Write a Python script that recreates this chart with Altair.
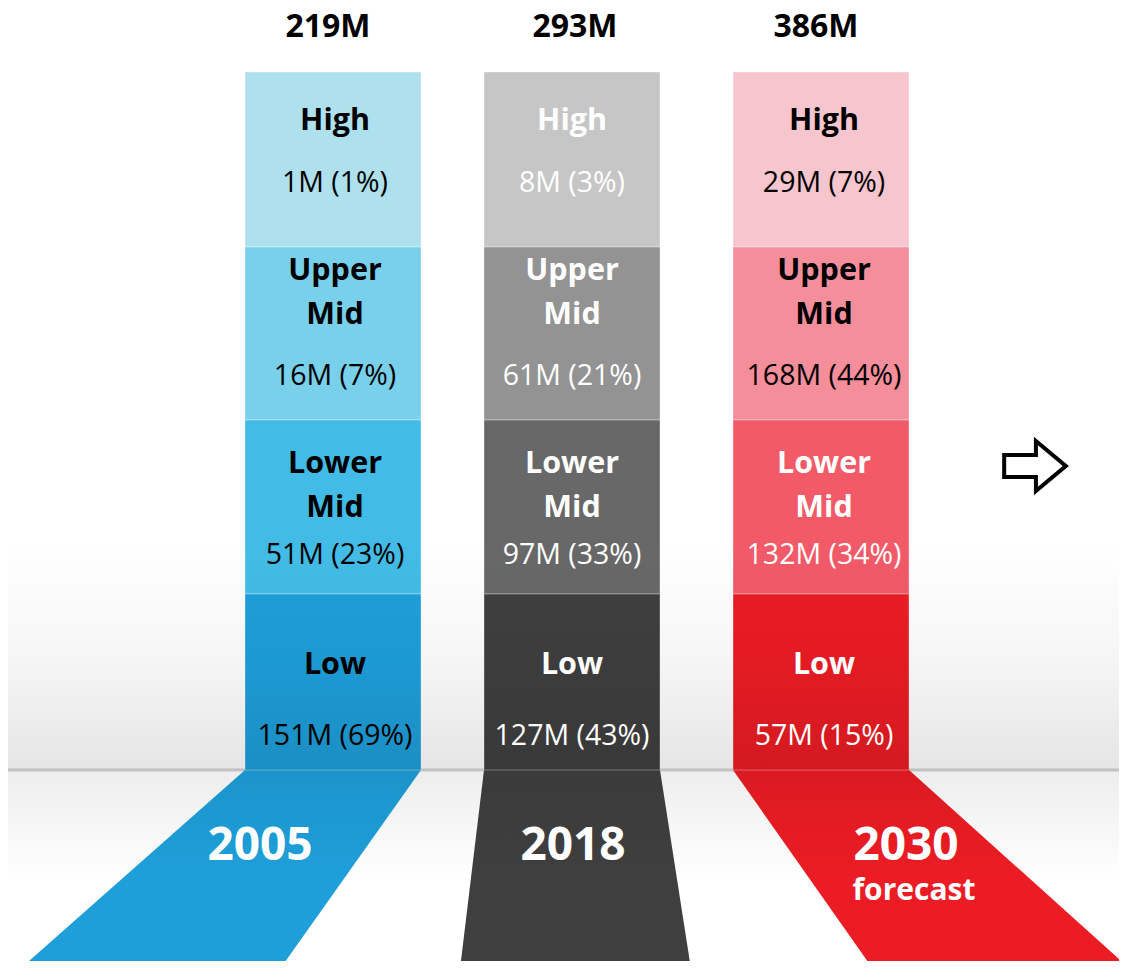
import altair as alt
import pandas as pd

# ---------------- data ----------------
years = ["2005", "2018", "2030"]
totals = ["219M", "293M", "386M"]
segments = ["High", "Upper Mid", "Lower Mid", "Low"]
m_2005 = [1, 16, 51, 151]
p_2005 = [1, 7, 23, 69]
m_2018 = [8, 61, 97, 127]
p_2018 = [3, 21, 33, 43]
m_2030 = [29, 168, 132, 57]
p_2030 = [7, 44, 34, 15]
year_notes = ["", "", "forecast"]

# ---------------- styles ----------------
fill_2005 = ["#aee0ee", "#78d0ea", "#42bce6", "#1e9fda"]
fill_2018 = ["#c6c6c6", "#939393", "#686868", "#3f3f3f"]
fill_2030 = ["#f7c5cd", "#f48e9b", "#f25a68", "#ec1c24"]
text_2005 = ["#000000", "#000000", "#000000", "#000000"]
text_2018 = ["#ffffff", "#ffffff", "#ffffff", "#ffffff"]
text_2030 = ["#000000", "#000000", "#ffffff", "#ffffff"]
FONT = "Open Sans"

# ---------------- layout (pixel space of the picture) ----------------
OFF = 8
W, H = 1127 - 2 * OFF, 969 - 2 * OFF
col_left = [245, 484, 733]
col_w = 176
seg_edges = [72, 247, 420, 594, 770]
text_x = [335, 572, 824]
total_x = [328, 575, 816]
total_y = 27
name_lines = [[("High", 121)], [("Upper", 271), ("Mid", 315)],
              [("Lower", 464), ("Mid", 508)], [("Low", 665)]]
value_y = [183, 376, 555, 736]
floor_top, floor_bot = 770, 969
floor_bl = [20, 460, 873]
floor_br = [280, 691, 1130]
year_label_x = [260, 573, 906]
year_label_y = 846
note_x, note_y = [260, 573, 914], 891

fills = [fill_2005, fill_2018, fill_2030]
tcols = [text_2005, text_2018, text_2030]
mills = [m_2005, m_2018, m_2030]
pcts = [p_2005, p_2018, p_2030]

XS = alt.Scale(domain=[OFF, OFF + W], nice=False, zero=False)
YS = alt.Scale(domain=[OFF, OFF + H], nice=False, zero=False, reverse=True)


def X(f):
    return alt.X(f, type="quantitative", scale=XS, axis=None, stack=None)


def Y(f):
    return alt.Y(f, type="quantitative", scale=YS, axis=None, stack=None)


# segment rectangles
rect_rows = []
for i, yr in enumerate(years):
    for j, seg in enumerate(segments):
        rect_rows.append(dict(year=yr, seg=seg, x=col_left[i], x2=col_left[i] + col_w,
                              y=seg_edges[j], y2=seg_edges[j + 1], fill=fills[i][j]))
rect_df = pd.DataFrame(rect_rows)

# floor trapezoids
floor_rows = []
for i, yr in enumerate(years):
    floor_rows.append(dict(year=yr, y=floor_top, xl=col_left[i], xr=col_left[i] + col_w, fill=fills[i][3]))
    floor_rows.append(dict(year=yr, y=floor_bot, xl=floor_bl[i], xr=floor_br[i], fill=fills[i][3]))
floor_df = pd.DataFrame(floor_rows)

# texts
bold_rows, reg_rows = [], []
for i, yr in enumerate(years):
    bold_rows.append(dict(x=total_x[i], y=total_y, t=totals[i], c="#000000", fs=32))
    bold_rows.append(dict(x=year_label_x[i], y=year_label_y, t=yr, c="#ffffff", fs=46))
    if year_notes[i]:
        bold_rows.append(dict(x=note_x[i], y=note_y, t=year_notes[i], c="#ffffff", fs=30))
    for j, seg in enumerate(segments):
        for word, yy in name_lines[j]:
            bold_rows.append(dict(x=text_x[i], y=yy, t=word, c=tcols[i][j], fs=30.5))
        reg_rows.append(dict(x=text_x[i], y=value_y[j], t=f"{mills[i][j]}M ({pcts[i][j]}%)",
                             c=tcols[i][j], fs=28.5))
bold_df = pd.DataFrame(bold_rows)
reg_df = pd.DataFrame(reg_rows)

# background helpers
horizon_df = pd.DataFrame([dict(x=0, x2=1127, y=floor_top)])
shade_top_df = pd.DataFrame([dict(x=0, x2=1127, y=540, y2=floor_top)])
shade_floor_df = pd.DataFrame([dict(x=0, x2=1127, y=floor_top, y2=880)])
arrow_df = pd.DataFrame([dict(x=1035, y=466)])

horizon = alt.Chart(horizon_df).mark_rule(color="#d4d4d4", strokeWidth=3).encode(
    x=X("x"), x2="x2", y=Y("y"))

floors = alt.Chart(floor_df).mark_area(orient="horizontal").encode(
    y=Y("y"), x=X("xl"), x2="xr", detail="year:N",
    color=alt.Color("fill:N", scale=None))

rects = alt.Chart(rect_df).mark_rect(stroke="#ffffff", strokeWidth=1, strokeOpacity=0.35).encode(
    x=X("x"), x2="x2", y=Y("y"), y2="y2", color=alt.Color("fill:N", scale=None))

shade_top = alt.Chart(shade_top_df).mark_rect(
    fill=alt.LinearGradient(gradient="linear", x1=0, x2=0, y1=0, y2=1,
                            stops=[alt.GradientStop(color="rgba(0,0,0,0)", offset=0),
                                   alt.GradientStop(color="rgba(0,0,0,0.035)", offset=0.5),
                                   alt.GradientStop(color="rgba(0,0,0,0.1)", offset=1)])
).encode(x=X("x"), x2="x2", y=Y("y"), y2="y2")

shade_floor = alt.Chart(shade_floor_df).mark_rect(
    fill=alt.LinearGradient(gradient="linear", x1=0, x2=0, y1=0, y2=1,
                            stops=[alt.GradientStop(color="rgba(0,0,0,0.07)", offset=0),
                                   alt.GradientStop(color="rgba(0,0,0,0)", offset=1)])
).encode(x=X("x"), x2="x2", y=Y("y"), y2="y2")

bold_text = alt.Chart(bold_df).mark_text(font=FONT, fontWeight="bold", baseline="middle", align="center").encode(
    x=X("x"), y=Y("y"), text="t:N", color=alt.Color("c:N", scale=None), size=alt.Size("fs:Q", scale=None))

reg_text = alt.Chart(reg_df).mark_text(font=FONT, baseline="middle", align="center").encode(
    x=X("x"), y=Y("y"), text="t:N", color=alt.Color("c:N", scale=None), size=alt.Size("fs:Q", scale=None))

arrow = alt.Chart(arrow_df).mark_point(
    shape="M-1,-0.36L0.03,-0.36L0.03,-0.81L1,0L0.03,0.81L0.03,0.36L-1,0.36Z",
    size=3800, filled=False, stroke="#000000", strokeWidth=4, strokeJoin="miter", opacity=1
).encode(x=X("x"), y=Y("y"))

chart = alt.layer(horizon, floors, rects, shade_top, shade_floor, bold_text, reg_text, arrow).properties(
    width=W, height=H, padding=0, autosize=alt.AutoSizeParams(type="none"),
    background="#ffffff"
).configure_view(stroke=None)

chart.save("out.html", embed_options={"renderer": "svg", "actions": False})
